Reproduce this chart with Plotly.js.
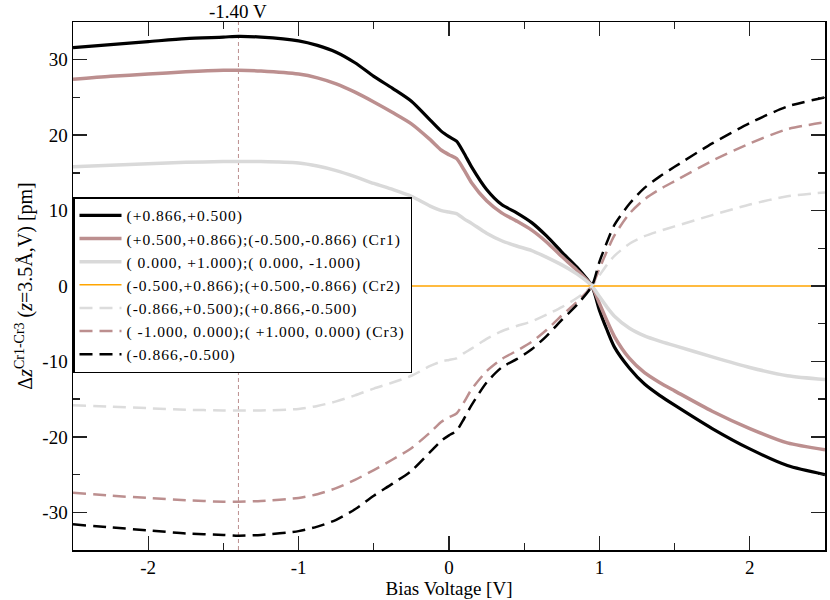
<!DOCTYPE html>
<html>
<head>
<meta charset="utf-8">
<script src="https://cdn.plot.ly/plotly-3.0.1.min.js"></script>
<style>html,body{margin:0;padding:0;background:#fff;}#chart{width:830px;height:600px;}
.legendtext{letter-spacing:1px;}</style>
</head>
<body>
<div id="chart"></div>
<script>
const bias = [-2.5,-2.25,-2.0,-1.75,-1.5,-1.4,-1.25,-1.0,-0.875,-0.75,-0.625,-0.5,-0.375,-0.25,-0.125,-0.05,0,0.05,0.1,0.15,0.25,0.35,0.45,0.55,0.65,0.75,0.85,0.95,1.0,1.05,1.1,1.2,1.3,1.4,1.5,1.75,2.0,2.25,2.5];

const s1 = [31.6,32.0,32.4,32.8,33.0,33.1,33.0,32.5,31.9,31.0,29.6,27.8,26.2,24.5,22.0,20.5,19.8,19.2,17.6,15.8,12.8,10.8,9.7,8.4,6.6,4.5,2.5,0,-3.2,-5.8,-8.1,-10.9,-13.0,-14.5,-15.8,-18.9,-21.6,-23.8,-25.0];
const cr1 = [27.4,27.8,28.1,28.4,28.6,28.6,28.5,28.1,27.6,26.8,25.7,24.4,23.0,21.5,19.4,18.0,17.4,16.9,15.4,13.7,11.3,9.7,8.6,7.4,5.8,3.9,2.1,0,-2.3,-4.6,-6.7,-9.6,-11.5,-12.8,-13.9,-16.6,-18.9,-20.8,-21.7];
const s3 = [15.8,16.0,16.2,16.4,16.5,16.5,16.5,16.3,15.9,15.3,14.5,13.6,12.8,11.9,10.6,10.0,9.8,9.6,8.9,8.3,7.0,6.0,5.3,4.7,3.8,2.8,1.6,0,-1.4,-2.8,-4.0,-5.6,-6.6,-7.3,-7.9,-9.4,-10.8,-11.9,-12.4];
const cr2 = [0,0,0,0,0,0,0,0,0,0,0,0,0,0,0,0,0,0,0,0,0,0,0,0,0,0,0,0,0,0,0,0,0,0,0,0,0,0,0];
const s5 = [-15.8,-16.0,-16.2,-16.4,-16.5,-16.5,-16.5,-16.3,-15.9,-15.3,-14.5,-13.6,-12.8,-11.9,-10.6,-10.0,-9.8,-9.6,-8.9,-8.3,-7.0,-6.0,-5.3,-4.7,-3.8,-2.8,-1.6,0,1.4,2.8,4.0,5.6,6.6,7.3,7.9,9.4,10.8,11.9,12.4];
const cr3 = [-27.4,-27.8,-28.1,-28.4,-28.6,-28.6,-28.5,-28.1,-27.6,-26.8,-25.7,-24.4,-23.0,-21.5,-19.4,-18.0,-17.4,-16.9,-15.4,-13.7,-11.3,-9.7,-8.6,-7.4,-5.8,-3.9,-2.1,0,2.3,4.6,6.7,9.6,11.5,12.8,13.9,16.6,18.9,20.8,21.7];
const s7 = [-31.6,-32.0,-32.4,-32.8,-33.0,-33.1,-33.0,-32.5,-31.9,-31.0,-29.6,-27.8,-26.2,-24.5,-22.0,-20.5,-19.8,-19.2,-17.6,-15.8,-12.8,-10.8,-9.7,-8.4,-6.6,-4.5,-2.5,0,3.2,5.8,8.1,10.9,13.0,14.5,15.8,18.9,21.6,23.8,25.0];

const names = [
  "(+0.866,+0.500)",
  "(+0.500,+0.866);(-0.500,-0.866) (Cr1)",
  "( 0.000, +1.000);( 0.000, -1.000)",
  "(-0.500,+0.866);(+0.500,-0.866) (Cr2)",
  "(-0.866,+0.500);(+0.866,-0.500)",
  "( -1.000, 0.000);( +1.000, 0.000) (Cr3)",
  "(-0.866,-0.500)"
];
const xTickVals = [-2, -1, 0, 1, 2];
const xTickText = ["-2", "-1", "0", "1", "2"];
const yTickVals = [-30, -20, -10, 0, 10, 20, 30];
const yTickText = ["-30", "-20", "-10", "0", "10", "20", "30"];
const markerV = -1.4;
const markerLabel = "-1.40 V";
const yRange = [-35, 35];
const xRange = [-2.5, 2.5];

const F = "'Liberation Serif', 'Times New Roman', serif";
const series = [s1, cr1, s3, cr2, s5, cr3, s7];
const styles = [
  {color:'#000000', width:3.2},
  {color:'#bc8f8f', width:3.5},
  {color:'#d9d9d9', width:3.5},
  {color:'#ffa500', width:1.5},
  {color:'#dcdcdc', width:2.5, dash:'13px,7px'},
  {color:'#bc8f8f', width:2.5, dash:'13px,7px'},
  {color:'#000000', width:2.5, dash:'13px,7px'}
];

const traces = series.map((ys, i) => ({
  type:'scatter', mode:'lines', x: bias, y: ys, name: names[i],
  line: Object.assign({shape:'spline', smoothing:0.7}, styles[i])
}));
traces.unshift({
  type:'scatter', mode:'lines', x:[markerV, markerV], y: yRange, showlegend:false,
  hoverinfo:'skip', line:{color:'#bc8f8f', width:1, dash:'4px,3px'}
});

const axisCommon = {
  showgrid:false, zeroline:false, showline:true, linecolor:'#000', linewidth:1.5,
  mirror:'ticks', ticks:'inside', ticklen:14, tickwidth:1.3, tickcolor:'#222',
  tickfont:{family:F, size:19, color:'#000'}
};

const layout = {
  width:830, height:600,
  margin:{l:73, r:5, t:22, b:50},
  paper_bgcolor:'#fff', plot_bgcolor:'#fff',
  showlegend:true,
  font:{family:F, color:'#000'},
  xaxis: Object.assign({}, axisCommon, {
    range: xRange, tickmode:'array', tickvals: xTickVals, ticktext: xTickText,
    minor:{dtick:0.5, tick0:0, ticks:'inside', ticklen:7, tickwidth:1.3, tickcolor:'#222'},
    title:{text:'Bias Voltage [V]', font:{family:F, size:19}, standoff:3}
  }),
  yaxis: Object.assign({}, axisCommon, {
    range: yRange, tickmode:'array', tickvals: yTickVals, ticktext: yTickText,
    minor:{dtick:5, tick0:0, ticks:'inside', ticklen:7, tickwidth:1.3, tickcolor:'#222'},
    title:{text:'Δ<i>z</i><sup>Cr1-Cr3</sup> (<i>z</i>=3.5Å,V) [pm]', font:{family:F, size:20}, standoff:4}
  }),
  legend:{
    x:0, xanchor:'left', y:0.668, yanchor:'top',
    bgcolor:'#fff', bordercolor:'#000', borderwidth:1.5,
    font:{family:F, size:15.5, color:'#000'},
    tracegroupgap:0, itemwidth:42
  },
  annotations:[{
    x: markerV, xref:'x', y:1, yref:'paper', yanchor:'middle', yshift:11,
    text: markerLabel, showarrow:false, font:{family:F, size:19, color:'#000'}
  }]
};

Plotly.newPlot('chart', traces, layout, {displayModeBar:false, staticPlot:true});
</script>
</body>
</html>
